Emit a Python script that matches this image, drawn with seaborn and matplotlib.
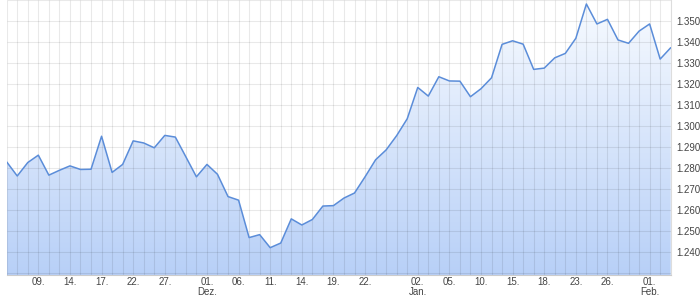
import numpy as np
import pandas as pd
import matplotlib
matplotlib.use("Agg")
import matplotlib.pyplot as plt
import seaborn as sns
from matplotlib.patches import Polygon

# ---- data ----
values = [
    1.2830, 1.2763, 1.2827, 1.2862, 1.2767, 1.2790, 1.2811, 1.2794, 1.2795, 1.2952,
    1.2780, 1.2818, 1.2930, 1.2920, 1.2897, 1.2956, 1.2948, 1.2854, 1.2759, 1.2818,
    1.2771, 1.2665, 1.2648, 1.2470, 1.2484, 1.2422, 1.2444, 1.2559, 1.2530, 1.2556,
    1.2620, 1.2622, 1.2658, 1.2682, 1.2759, 1.2840, 1.2887, 1.2955, 1.3035, 1.3184,
    1.3143, 1.3235, 1.3215, 1.3214, 1.3140, 1.3178, 1.3230, 1.3389, 1.3406, 1.3390,
    1.3270, 1.3276, 1.3325, 1.3346, 1.3418, 1.3581, 1.3486, 1.3508, 1.3410, 1.3394,
    1.3452, 1.3486, 1.3319, 1.3373,
]
tick_positions = [3, 6, 9, 12, 15, 19, 22, 25, 28, 31, 34, 39, 42, 45, 48, 51, 54, 57, 61]
tick_labels = ["09.", "14.", "17.", "22.", "27.", "01.\nDez.", "06.", "11.", "14.", "19.",
               "22.", "02.\nJan.", "05.", "10.", "15.", "18.", "23.", "26.", "01.\nFeb."]
y_ticks = [1.240, 1.250, 1.260, 1.270, 1.280, 1.290, 1.300, 1.310, 1.320, 1.330, 1.340, 1.350]
y_grid = [1.230] + y_ticks + [1.360]

df = pd.DataFrame({"idx": np.arange(len(values)), "value": values})

sns.set_style("white")
plt.rcParams["font.family"] = ["Liberation Sans", "DejaVu Sans"]

fig = plt.figure(figsize=(7.0, 2.96), dpi=100)
ax = fig.add_axes([6.7 / 700, 21 / 296, (670.7 - 6.7) / 700, 275 / 296])

y_lo, y_hi = 1.2292, 1.3600
x_lo, x_hi = 0, len(values) - 1

# gradient fill under the curve
grad = np.linspace(0, 1, 256).reshape(-1, 1)
top_c = np.array([0.972, 0.984, 1.0])
bot_c = np.array([0.72, 0.815, 0.97])
img = top_c[None, None, :] * (1 - grad[..., None]) + bot_c[None, None, :] * grad[..., None]
im = ax.imshow(img, extent=[x_lo, x_hi, y_lo, y_hi], origin="upper", aspect="auto", zorder=0)
poly_pts = [(x_lo, y_lo)] + list(zip(df["idx"], df["value"])) + [(x_hi, y_lo)]
clip = Polygon(poly_pts, closed=True, transform=ax.transData, facecolor="none", edgecolor="none")
ax.add_patch(clip)
im.set_clip_path(clip)

# grid lines (drawn over the fill, under the line)
grid_col = (0, 0, 0, 0.085)
ax.vlines(df["idx"], y_lo, y_hi, colors=[grid_col], linewidth=0.8, zorder=1)
ax.hlines(y_grid, x_lo, x_hi, colors=[grid_col], linewidth=0.8, zorder=1)

sns.lineplot(data=df, x="idx", y="value", ax=ax, color="#5b8dd9", linewidth=1.1, zorder=3)

ax.set_xlim(x_lo, x_hi)
ax.set_ylim(y_lo, y_hi)

ax.set_xticks(tick_positions)
ax.set_xticklabels(tick_labels, fontsize=7, color="#444444", linespacing=0.95)
ax.set_yticks(y_ticks)
ax.set_yticklabels([f"{v:.3f}" for v in y_ticks], fontsize=7, color="#444444")
ax.yaxis.tick_right()
ax.tick_params(axis="both", which="both", length=0)
ax.tick_params(axis="y", pad=4)
ax.tick_params(axis="x", pad=1.5)
ax.set_xlabel("")
ax.set_ylabel("")

for side in ["top", "left"]:
    ax.spines[side].set_visible(False)
ax.spines["bottom"].set_color("#cccccc")
ax.spines["bottom"].set_linewidth(0.8)
ax.spines["right"].set_color("#dddddd")
ax.spines["right"].set_linewidth(0.8)

fig.savefig("out.png", dpi=100)
